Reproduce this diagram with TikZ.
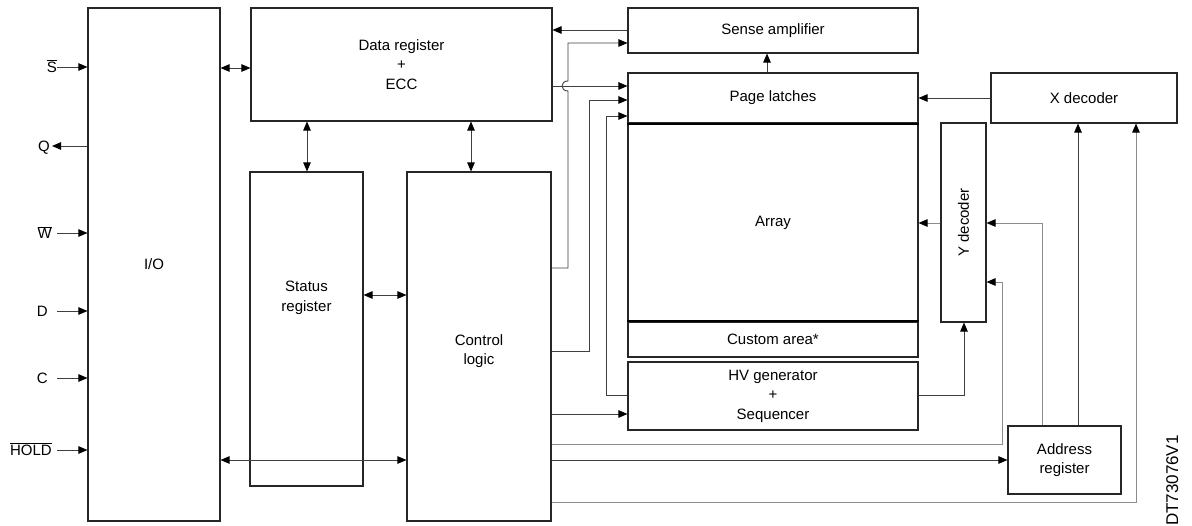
\documentclass[tikz,border=0pt]{standalone}
\usepackage{fontspec}
\setmainfont{Liberation Sans}
\usetikzlibrary{arrows.meta}
\tikzset{
  blk/.style={draw=black!85, line width=1.1pt, inner sep=0pt, align=center, font=\fontsize{15}{19.5}\selectfont},
  txt/.style={inner sep=0pt, align=center, font=\fontsize{15}{19.5}\selectfont},
  pinlbl/.style={inner sep=0pt, anchor=east, text height=11pt, text depth=0pt, font=\fontsize{15}{19}\selectfont},
  ln/.style={draw=black!75, line width=0.9pt},
  lt/.style={draw=black!45, line width=0.9pt},
  arr/.style={-{Triangle[length=9pt,width=7.5pt,color=black]}},
  darr/.style={{Triangle[length=9pt,width=7.5pt,color=black]}-{Triangle[length=9pt,width=7.5pt,color=black]}},
  sep/.style={draw=black, line width=2pt}
}
\begin{document}
\begin{tikzpicture}[x=1pt,y=-1pt]
\useasboundingbox (0,0) rectangle (1192,526);
% boxes
\node[blk, minimum width=132, minimum height=513] (io) at (154,264.5) {I/O};
\node[blk, minimum width=301, minimum height=113] (dr) at (401.5,64.5) {Data register\\+\\ECC};
\node[blk, minimum width=290, minimum height=45] (sa) at (773,30.5) {Sense amplifier};
\node[blk, minimum width=290, minimum height=50] (pl) at (773,98) {Page latches};
\node[blk, minimum width=290, minimum height=199] (ar) at (773,222.5) {Array};
\node[blk, minimum width=290, minimum height=35] (ca) at (773,339.5) {Custom area*};
\node[blk, minimum width=290, minimum height=68] (hv) at (773,396) {HV generator\\+\\Sequencer};
\node[blk, minimum width=186, minimum height=50] (xd) at (1084,98) {X decoder};
\node[blk, minimum width=45, minimum height=199] (yd) at (963.5,222.5) {};
\node[txt, rotate=90] (ydt) at (yd.center) {Y decoder};
\node[blk, minimum width=113, minimum height=314] (st) at (306.5,329) {};
\node[txt] (stt) at (306.5,298) {Status\\register};
\node[blk, minimum width=144, minimum height=349] (cl) at (479,346.5) {};
\node[txt] (clt) at (479,351) {Control\\logic};
\node[blk, minimum width=113, minimum height=68] (ad) at (1064.5,460) {Address\\register};
\draw[sep] (pl.south west) -- (pl.south east);
\draw[sep] (ca.north west) -- (ca.north east);
% pins
\node[pinlbl] (s) at (57,67) {$\overline{\mbox{S}}$};
\node[pinlbl] (q) at (50,146) {Q};
\node[pinlbl] (w) at (52,233) {$\overline{\mbox{W}}$};
\node[pinlbl] (d) at (48,311) {D};
\node[pinlbl] (c) at (48,378) {C};
\node[pinlbl] (h) at (52,450) {$\overline{\mbox{HOLD}}$};
\draw[ln,arr] (s.east) -- (s -| io.west);
\draw[ln,arr] (q -| io.west) -- ([xshift=2pt]q.east);
\draw[ln,arr] ([xshift=5pt]w.east) -- (w -| io.west);
\draw[ln,arr] ([xshift=9pt]d.east) -- (d -| io.west);
\draw[ln,arr] ([xshift=9pt]c.east) -- (c -| io.west);
\draw[ln,arr] ([xshift=5pt]h.east) -- (h -| io.west);
% connectors
\draw[ln,darr] (io.east |- 0,68) -- (dr.west |- 0,68);
\draw[ln,arr] (sa.west |- 0,30) -- (dr.east |- 0,30);
\draw[ln,arr] (dr.east |- 0,86) -- (pl.west |- 0,86);
\draw[ln,arr] (cl.east |- 0,268) -- (568,268) -- (568,91) .. controls (560,91) and (560,81) .. (568,81) -- (568,43) -- (sa.west |- 0,43);
\draw[ln,arr] (cl.east |- 0,351) -| (589,100) -- (pl.west |- 0,100);
\draw[ln,arr] (hv.west |- 0,395) -| (606,116) -- (pl.west |- 0,116);
\draw[ln,arr] (cl.east |- 0,414) -- (hv.west |- 0,414);
\draw[ln,darr] (dr.south -| 307,0) -- (st.north -| 307,0);
\draw[ln,darr] (dr.south -| 471,0) -- (cl.north -| 471,0);
\draw[ln,darr] (st.east |- 0,295) -- (cl.west |- 0,295);
\draw[ln,darr] (io.east |- 0,460) -- (cl.west |- 0,460);
\draw[ln,arr] (pl.north -| 767,0) -- (sa.south -| 767,0);
\draw[ln,arr] (xd.west |- 0,98) -- (pl.east |- 0,98);
\draw[lt,arr] (yd.west |- 0,223) -- (ar.east |- 0,223);
\draw[ln,arr] (hv.east |- 0,395) -| (yd.south -| 964,0);
\draw[lt,arr] (ad.north -| 1042,0) |- (yd.east |- 0,223);
\draw[ln,arr] (ad.north -| 1078,0) -- (xd.south -| 1078,0);
\draw[lt,arr] (cl.east |- 0,444) -| (1002,282) -- (yd.east |- 0,282);
\draw[ln,arr] (cl.east |- 0,460) -- (ad.west |- 0,460);
\draw[lt,arr] (cl.east |- 0,502) -| (xd.south -| 1136,0);
% reference code
\node[inner sep=0pt, rotate=90, anchor=base east, font=\fontsize{17}{20}\selectfont] (ref) at (1178,435) {DT73076V1};
\end{tikzpicture}
\end{document}
